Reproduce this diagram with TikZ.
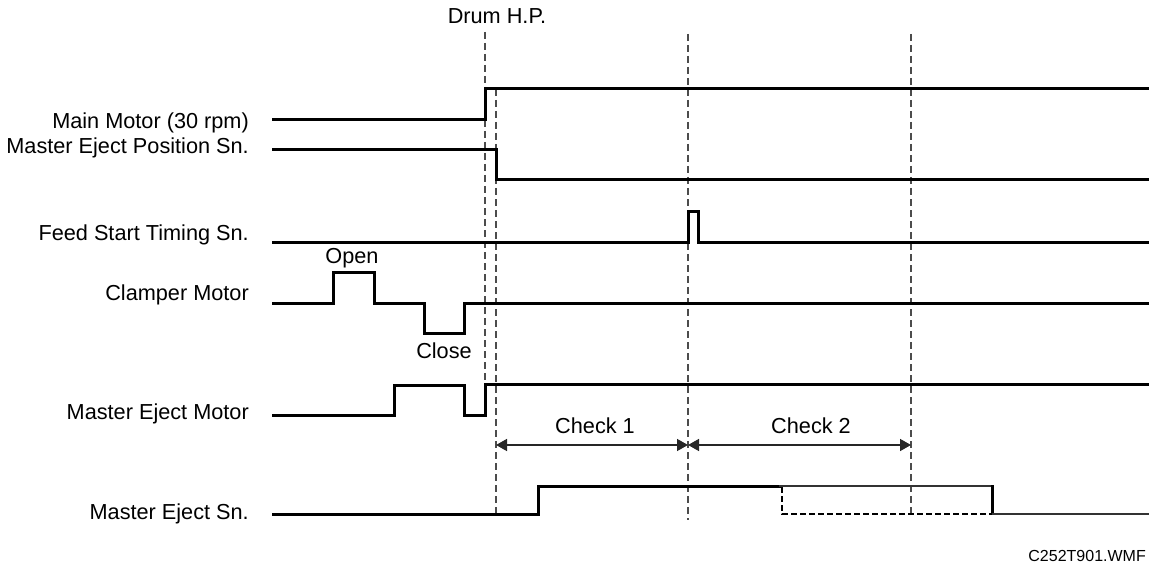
\documentclass[tikz,border=0pt]{standalone}
\usepackage{fontspec}
\setmainfont{Liberation Sans}
\usetikzlibrary{arrows.meta}

\begin{document}
\begin{tikzpicture}[x=1pt,y=-1pt,>={Triangle[length=11pt,width=12pt]},
  sig/.style={line width=3pt},
  guide/.style={gray!60!black,line width=1.1pt,dash pattern=on 7pt off 4pt},
  lbl/.style={anchor=east,inner sep=0pt,font=\fontsize{21.7}{26}\selectfont},
  txt/.style={inner sep=0pt,font=\fontsize{21.7}{26}\selectfont}]
  \useasboundingbox (0,0) rectangle (1149,567);
  % time marks
  \coordinate (hp) at (485,32);
  \coordinate (hpb) at (485,383);
  \coordinate (t1) at (496,89);
  \coordinate (t1b) at (496,514);
  \coordinate (t2) at (688,34);
  \coordinate (t2b) at (688,520);
  \coordinate (t3) at (911,34);
  \coordinate (t3b) at (911,516);
  \draw[guide] (hp) -- (hpb);
  \draw[guide] (t1) -- (t1b);
  \draw[guide] (t2) -- (t2b);
  \draw[guide] (t3) -- (t3b);
  \node[txt] (drumhp) at (497,16) {Drum H.P.};
  % signal names
  \node[lbl] (mainmotor) at (249,123) {Main Motor (30 rpm)};
  \node[lbl] (ejectpos) at (249,148) {Master Eject Position Sn.};
  \node[lbl] (feedstart) at (249,235) {Feed Start Timing Sn.};
  \node[lbl] (clamper) at (249,295) {Clamper Motor};
  \node[lbl] (ejectmotor) at (249,414) {Master Eject Motor};
  \node[lbl] (ejectsn) at (249,514) {Master Eject Sn.};
  % signals
  \draw[sig] (272,120) -- (485,120) -- (485,89) -- (1149,89);
  \draw[sig] (272,150) -- (496,150) -- (496,180) -- (1149,180);
  \draw[sig] (272,242) -- (688,242) -- (688,211) -- (698,211) -- (698,242) -- (1149,242);
  \draw[sig] (272,303) -- (333,303) -- (333,272) -- (374,272) -- (374,303) -- (424,303)
    -- (424,333) -- (464,333) -- (464,303) -- (1149,303);
  \node[txt] (open) at (352,258) {Open};
  \node[txt] (close) at (444,351) {Close};
  \draw[sig] (272,415) -- (394,415) -- (394,385) -- (464,385) -- (464,415) -- (485,415)
    -- (485,384) -- (1149,384);
  \draw[sig] (272,514) -- (538,514) -- (538,486) -- (781,486);
  \draw[gray!40!black,line width=1.8pt] (779,486) -- (992,486);
  \draw[sig] (992,485) -- (992,514);
  \draw[gray!40!black,line width=1.6pt] (992,514) -- (1149,514);
  \draw[line width=2pt,dash pattern=on 6pt off 3pt] (782,487) -- (782,514) -- (992,514);
  % check windows
  \coordinate (c0) at (496,445);
  \coordinate (c1) at (688,445);
  \coordinate (c2) at (911,445);
  \draw[<->,gray!30!black,line width=1.5pt] (c0) -- (c1);
  \draw[<->,gray!30!black,line width=1.5pt] (c1) -- (c2);
  \node[txt] (check1) at (595,426) {Check 1};
  \node[txt] (check2) at (811,426) {Check 2};
  \node[txt,anchor=east,font=\fontsize{16}{19}\selectfont] (fname) at (1146,556) {C252T901.WMF};
\end{tikzpicture}
\end{document}
